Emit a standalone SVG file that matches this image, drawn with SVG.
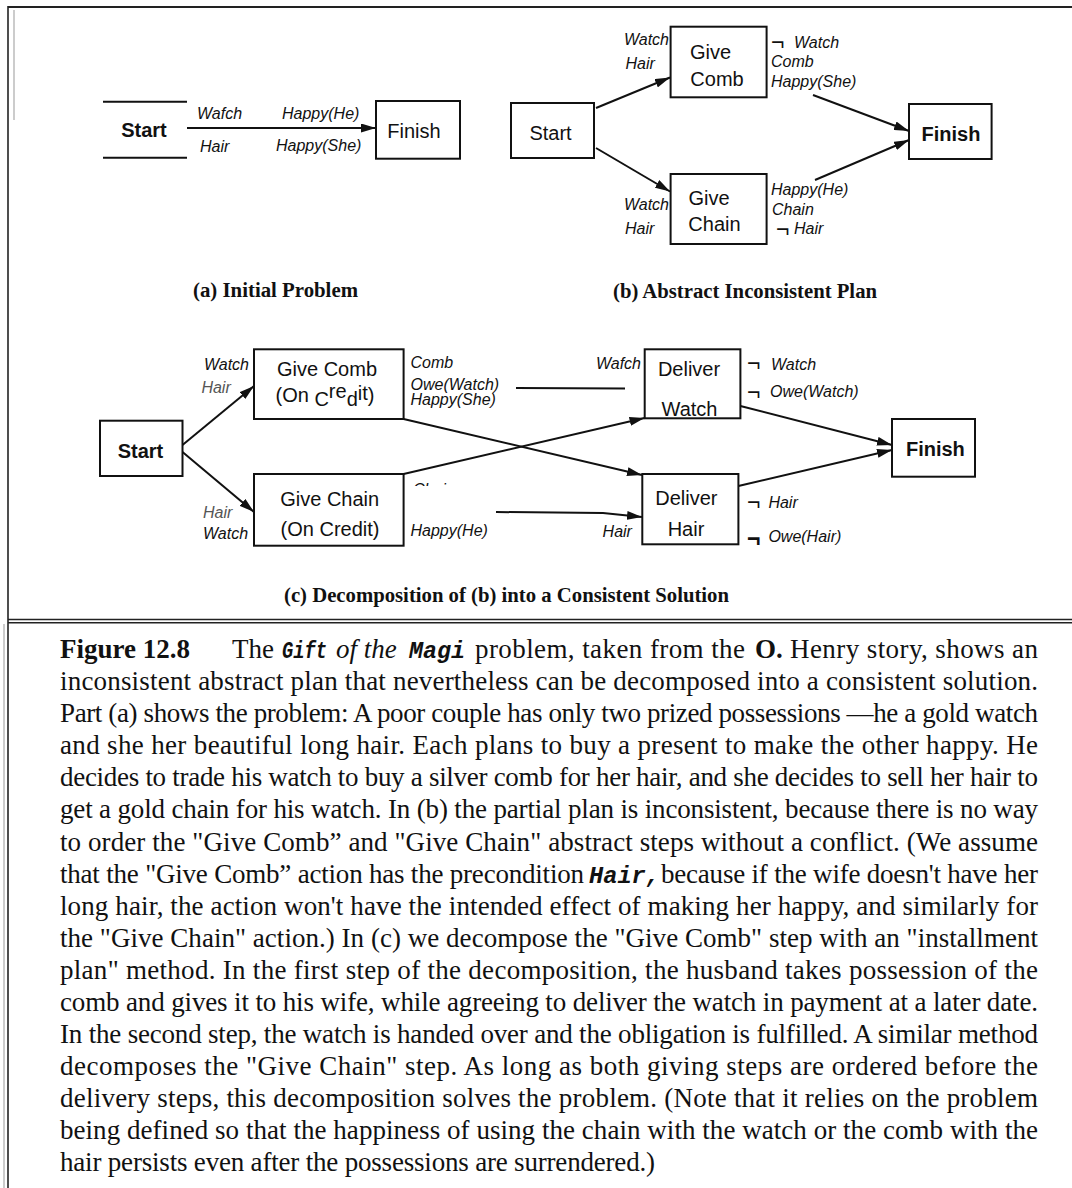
<svg xmlns="http://www.w3.org/2000/svg" width="1072" height="1188" viewBox="0 0 1072 1188">
<defs>
<marker id="arr" viewBox="0 0 15 9" refX="15" refY="4.5" markerWidth="15" markerHeight="9" markerUnits="userSpaceOnUse" orient="auto">
<path d="M0,0 L15,4.5 L0,9 z" fill="#111"/>
</marker>
<clipPath id="chainClip"><rect x="405" y="470" width="70" height="16"/></clipPath>
<style>
.box{fill:#fff;stroke:#111;stroke-width:2}
.rule{stroke:#111;stroke-width:2;fill:none}
.conn{stroke:#111;stroke-width:2;fill:none;marker-end:url(#arr)}
.plain{stroke:#111;stroke-width:2;fill:none}
.nl{font-family:"Liberation Sans",Arial,sans-serif;font-size:20px;fill:#111;text-anchor:middle}
.nb{font-weight:bold}
.lab{font-family:"Liberation Sans",Arial,sans-serif;font-size:16px;font-style:italic;fill:#111}
.end{text-anchor:end}
.gray{fill:#555}
.neg{font-style:normal;font-size:23px}
.cap{font-family:"Liberation Serif","Times New Roman",serif;font-weight:bold;font-size:20px;fill:#111}
.txt{font-family:"Liberation Serif","Times New Roman",serif;font-size:27px;fill:#111}
.b{font-weight:bold}
.i{font-style:italic}
.mono{font-family:"Liberation Mono","Courier New",monospace;font-weight:bold;font-style:italic;font-size:23px}
</style>
</defs>
<rect width="1072" height="1188" fill="#fff"/>

<!-- frame -->
<g id="frame" fill="none">
<line x1="8" y1="7" x2="1072" y2="7" stroke="#222" stroke-width="2"/>
<line x1="8" y1="6" x2="8" y2="1188" stroke="#222" stroke-width="1.6"/>
<line x1="14" y1="10" x2="14" y2="120" stroke="#999" stroke-width="1"/>
<line x1="8" y1="619.5" x2="1072" y2="619.5" stroke="#222" stroke-width="1.4"/>
<line x1="8" y1="622.8" x2="1072" y2="622.8" stroke="#222" stroke-width="1.4"/>
<line x1="4" y1="624" x2="4" y2="1188" stroke="#999" stroke-width="1"/>
</g>

<!-- connectors -->
<g id="connectors">
<path class="conn" d="M187,128 L376,128"/>
<path class="conn" d="M596,108 L670,77.5"/>
<path class="conn" d="M596,148 L670,191.5"/>
<path class="conn" d="M813,95 L909,131"/>
<path class="conn" d="M815,180 L909,140"/>
<path class="conn" d="M182.5,445 L254,386"/>
<path class="conn" d="M182.5,452 L254,512"/>
<path class="plain" d="M516,388 L625,388.5"/>
<path class="conn" d="M496,512 L603,513 L642,517"/>
<path class="conn" d="M403.6,419 L642,475"/>
<path class="conn" d="M403.6,474 L644.5,418"/>
<path class="conn" d="M740.4,406 L892,445"/>
<path class="conn" d="M738.4,486 L892,450"/>
</g>

<!-- panel (a) nodes -->
<g id="a-start">
<line class="rule" x1="103" y1="101.7" x2="187" y2="101.7"/>
<line class="rule" x1="103" y1="157.7" x2="187" y2="157.7"/>
<text class="nl nb" x="144" y="137">Start</text>
</g>
<g id="a-finish">
<rect class="box" x="376" y="101" width="84" height="57.7"/>
<text class="nl" x="414" y="138.3">Finish</text>
</g>

<!-- panel (b) nodes -->
<g id="b-start">
<rect class="box" x="511" y="103" width="83" height="55"/>
<text class="nl" x="550.5" y="140.3">Start</text>
</g>
<g id="b-give-comb">
<rect class="box" x="670.6" y="26.7" width="96" height="70.6"/>
<text class="nl" x="710.5" y="59.3">Give</text>
<text class="nl" x="717" y="86">Comb</text>
</g>
<g id="b-give-chain">
<rect class="box" x="670.6" y="174" width="96" height="70"/>
<text class="nl" x="709" y="205">Give</text>
<text class="nl" x="714.5" y="231">Chain</text>
</g>
<g id="b-finish">
<rect class="box" x="909" y="104" width="82.6" height="55"/>
<text class="nl nb" x="951" y="141">Finish</text>
</g>

<!-- panel (c) nodes -->
<g id="c-start">
<rect class="box" x="100" y="420.7" width="82.5" height="55.3"/>
<text class="nl nb" x="140.5" y="458.3">Start</text>
</g>
<g id="c-give-comb">
<rect class="box" x="254" y="349.3" width="149.6" height="69.7"/>
<text class="nl" x="327" y="376">Give Comb</text>
<text class="nl" style="text-anchor:start" x="275.5" y="401.5"><tspan>(On </tspan><tspan y="406">C</tspan><tspan y="398">re</tspan><tspan y="405.5">d</tspan><tspan y="400">it</tspan><tspan y="401.5">)</tspan></text>
</g>
<g id="c-give-chain">
<rect class="box" x="254" y="474" width="149.6" height="71.7"/>
<text class="nl" x="329.7" y="506">Give Chain</text>
<text class="nl" x="330" y="536">(On Credit)</text>
</g>
<g id="c-deliver-watch">
<rect class="box" x="644.7" y="349.3" width="95.7" height="69"/>
<text class="nl" x="689" y="376">Deliver</text>
<text class="nl" x="689.5" y="415.5">Watch</text>
</g>
<g id="c-deliver-hair">
<rect class="box" x="642.3" y="474" width="96.1" height="70.3"/>
<text class="nl" x="686.4" y="505">Deliver</text>
<text class="nl" x="686" y="536">Hair</text>
</g>
<g id="c-finish">
<rect class="box" x="892" y="419" width="83" height="57.7"/>
<text class="nl nb" x="935.4" y="456">Finish</text>
</g>

<!-- condition labels -->
<g id="labels">
<text class="lab" x="197" y="119">Wafch</text>
<text class="lab" x="282" y="119">Happy(He)</text>
<text class="lab" x="200" y="151.5">Hair</text>
<text class="lab" x="276" y="151">Happy(She)</text>

<text class="lab end" x="669" y="45">Watch</text>
<text class="lab" x="625.5" y="69">Hair</text>
<text class="lab"><tspan class="neg" x="771" y="50">¬</tspan><tspan x="794" y="48.2">Watch</tspan></text>
<text class="lab" x="771" y="67.2">Comb</text>
<text class="lab" x="771" y="86.5">Happy(She)</text>
<text class="lab" x="771" y="194.5">Happy(He)</text>
<text class="lab" x="772" y="214.5">Chain</text>
<text class="lab"><tspan class="neg" x="776" y="237">¬</tspan><tspan x="794" y="234.2">Hair</tspan></text>
<text class="lab end" x="669" y="209.5">Watch</text>
<text class="lab" x="625" y="234.2">Hair</text>

<text class="lab end" x="249" y="369.8">Watch</text>
<text class="lab gray" x="201.4" y="393.2">Hair</text>
<text class="lab gray" x="203" y="517.5">Hair</text>
<text class="lab" x="203" y="539.2">Watch</text>
<text class="lab" x="410.5" y="367.5">Comb</text>
<text class="lab" x="410.5" y="389.8">Owe(Watch)</text>
<text class="lab" x="410.5" y="404.5">Happy(She)</text>
<text class="lab" x="413" y="494.5" clip-path="url(#chainClip)">Chain</text>
<text class="lab" x="410.5" y="535.5">Happy(He)</text>
<text class="lab end" x="641" y="368.8">Wafch</text>
<text class="lab" x="602.6" y="536.5">Hair</text>
<text class="lab"><tspan class="neg" x="747" y="371">¬</tspan><tspan x="771" y="369.5">Watch</tspan></text>
<text class="lab"><tspan class="neg" x="747" y="400">¬</tspan><tspan x="770" y="396.5">Owe(Watch)</tspan></text>
<text class="lab"><tspan class="neg" x="747" y="510">¬</tspan><tspan x="768.4" y="507.5">Hair</tspan></text>
<text class="lab"><tspan class="neg" style="font-weight:bold" x="747" y="547">¬</tspan><tspan x="768.4" y="541.5">Owe(Hair)</tspan></text>
</g>

<!-- sub-captions -->
<g id="subcaptions">
<text class="cap" x="193" y="297" textLength="165" lengthAdjust="spacingAndGlyphs">(a) Initial Problem</text>
<text class="cap" x="613" y="298" textLength="264" lengthAdjust="spacingAndGlyphs">(b) Abstract Inconsistent Plan</text>
<text class="cap" x="284" y="602" textLength="445" lengthAdjust="spacingAndGlyphs">(c) Decomposition of (b) into a Consistent Solution</text>
</g>

<!-- figure caption -->
<g id="caption" class="txt">
<text y="658"><tspan class="b" x="60">Figure 12.8</tspan><tspan x="232">The</tspan><tspan class="mono" x="282" textLength="45" lengthAdjust="spacingAndGlyphs">Gift</tspan><tspan class="i" x="336">of the</tspan><tspan class="mono" x="409" textLength="56" lengthAdjust="spacingAndGlyphs">Magi</tspan><tspan x="475" textLength="270" lengthAdjust="spacing">problem, taken from the</tspan><tspan class="b" x="755">O.</tspan><tspan x="790" textLength="248" lengthAdjust="spacing">Henry story, shows an</tspan></text>
<text x="60" y="690.1" textLength="978" lengthAdjust="spacing">inconsistent abstract plan that nevertheless can be decomposed into a consistent solution.</text>
<text x="60" y="722.2" textLength="978" lengthAdjust="spacing">Part (a) shows the problem: A poor couple has only two prized possessions —he a gold watch</text>
<text x="60" y="754.2" textLength="978" lengthAdjust="spacing">and she her beautiful long hair.  Each plans to buy a present to make the other happy.  He</text>
<text x="60" y="786.3" textLength="978" lengthAdjust="spacing">decides to trade his watch to buy a silver comb for her hair, and she decides to sell her hair to</text>
<text x="60" y="818.4" textLength="978" lengthAdjust="spacing">get a gold chain for his watch. In (b) the partial plan is inconsistent, because there is no way</text>
<text x="60" y="850.5" textLength="978" lengthAdjust="spacing">to order the "Give Comb” and "Give Chain" abstract steps without a conflict.  (We assume</text>
<text y="882.6"><tspan x="60" textLength="524" lengthAdjust="spacing">that the "Give Comb” action has the precondition</tspan><tspan class="mono" x="589" textLength="71" lengthAdjust="spacingAndGlyphs">Hair,</tspan><tspan x="661" textLength="377" lengthAdjust="spacing">because if the wife doesn't have her</tspan></text>
<text x="60" y="914.6" textLength="978" lengthAdjust="spacing">long hair, the action won't have the intended effect of making her happy, and similarly for</text>
<text x="60" y="946.7" textLength="978" lengthAdjust="spacing">the "Give Chain" action.) In (c) we decompose the "Give Comb" step with an "installment</text>
<text x="60" y="978.8" textLength="978" lengthAdjust="spacing">plan" method.  In the first step of the decomposition, the husband takes possession of the</text>
<text x="60" y="1010.9" textLength="978" lengthAdjust="spacing">comb and gives it to his wife, while agreeing to deliver the watch in payment at a later date.</text>
<text x="60" y="1043" textLength="978" lengthAdjust="spacing">In the second step, the watch is handed over and the obligation is fulfilled. A similar method</text>
<text x="60" y="1075" textLength="978" lengthAdjust="spacing">decomposes the "Give Chain" step.  As long as both giving steps are ordered before the</text>
<text x="60" y="1107.1" textLength="978" lengthAdjust="spacing">delivery steps, this decomposition solves the problem.  (Note that it relies on the problem</text>
<text x="60" y="1139.2" textLength="978" lengthAdjust="spacing">being defined so that the happiness of using the chain with the watch or the comb with the</text>
<text x="60" y="1171.3" textLength="595" lengthAdjust="spacing">hair persists even after the possessions are surrendered.)</text>
</g>
</svg>
